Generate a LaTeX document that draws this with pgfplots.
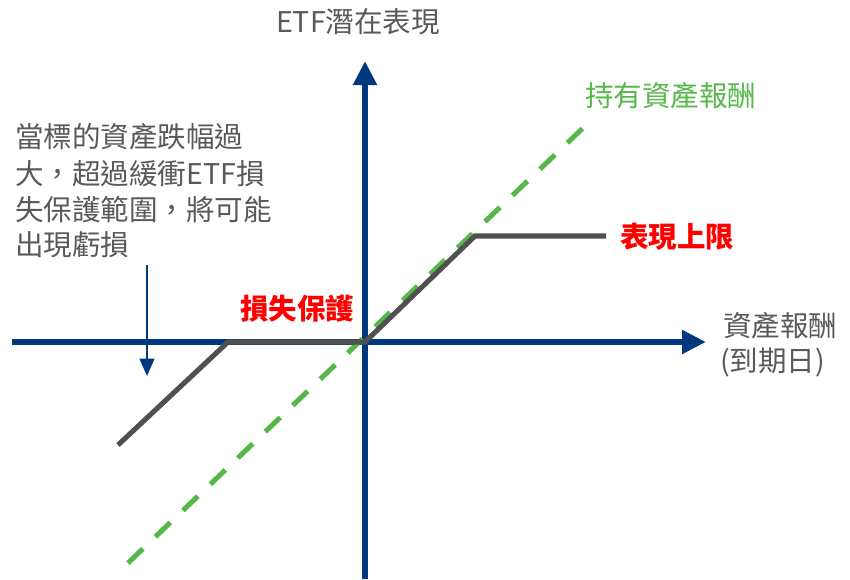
\documentclass[border=0pt]{standalone}
\usepackage{fontspec}
\setmainfont{Noto Sans CJK TC}
\usepackage{pgfplots}
\pgfplotsset{compat=1.18}
\usetikzlibrary{arrows.meta}

\definecolor{axisblue}{RGB}{0,56,128}
\definecolor{linegray}{RGB}{80,80,80}
\definecolor{textgray}{RGB}{89,89,89}
\definecolor{holdgreen}{RGB}{86,184,72}
\definecolor{labelred}{RGB}{255,0,0}

\begin{document}
\begin{tikzpicture}
\begin{axis}[
  name=ax,
  width=637.5pt, height=434.25pt,
  scale only axis,
  hide axis,
  clip=false,
  xmin=0, xmax=850,
  ymin=0, ymax=579,
  y dir=reverse,
]
% axes with arrow heads
\addplot[axisblue, line width=4.5pt, -{Triangle[length=18pt,width=17pt]}]
  coordinates {(12,342) (706,342)};
\addplot[axisblue, line width=4.5pt, -{Triangle[length=18pt,width=17pt]}]
  coordinates {(365,579) (365,61)};

% asset return (held directly)
\addplot[holdgreen, line width=3.8pt, dash pattern=on 15.5pt off 13pt]
  coordinates {(128,563) (584,127)};

% buffered ETF payoff
\addplot[linegray, line width=3.8pt]
  coordinates {(118,445) (228,342) (365,342) (475,236) (606,236)};

% small arrow pointing down
\addplot[axisblue, line width=1.6pt, -{Triangle[length=13pt,width=11pt]}]
  coordinates {(147,265) (147,376)};

\node[textgray, font=\fontsize{21.4}{24}\selectfont] at (axis cs:358,22) {ETF潛在表現};

\node[textgray, anchor=west, inner sep=0pt, font=\fontsize{21.4}{24}\selectfont] at (axis cs:15,137) {當標的資產跌幅過};
\node[textgray, anchor=west, inner sep=0pt, font=\fontsize{21.4}{24}\selectfont] at (axis cs:15,174) {大，超過緩衝ETF損};
\node[textgray, anchor=west, inner sep=0pt, font=\fontsize{21.4}{24}\selectfont] at (axis cs:15,210) {失保護範圍，將可能};
\node[textgray, anchor=west, inner sep=0pt, font=\fontsize{21.4}{24}\selectfont] at (axis cs:15,245) {出現虧損};

\node[holdgreen, anchor=west, inner sep=0pt, font=\fontsize{21.4}{24}\selectfont] at (axis cs:585,96) {持有資產報酬};
\node[labelred, anchor=west, inner sep=0pt, font=\fontsize{21.4}{24}\selectfont\bfseries] at (axis cs:620,237) {表現上限};
\node[labelred, anchor=west, inner sep=0pt, font=\fontsize{21.4}{24}\selectfont\bfseries] at (axis cs:240,309) {損失保護};

\node[textgray, anchor=west, inner sep=0pt, font=\fontsize{21.4}{24}\selectfont] at (axis cs:723,326) {資產報酬};
\node[textgray, anchor=west, inner sep=0pt, font=\fontsize{21.4}{24}\selectfont] at (axis cs:720,362) {(到期日)};
\end{axis}
\pgfresetboundingbox
\path (ax.south west) rectangle (ax.north east);
\end{tikzpicture}
\end{document}
